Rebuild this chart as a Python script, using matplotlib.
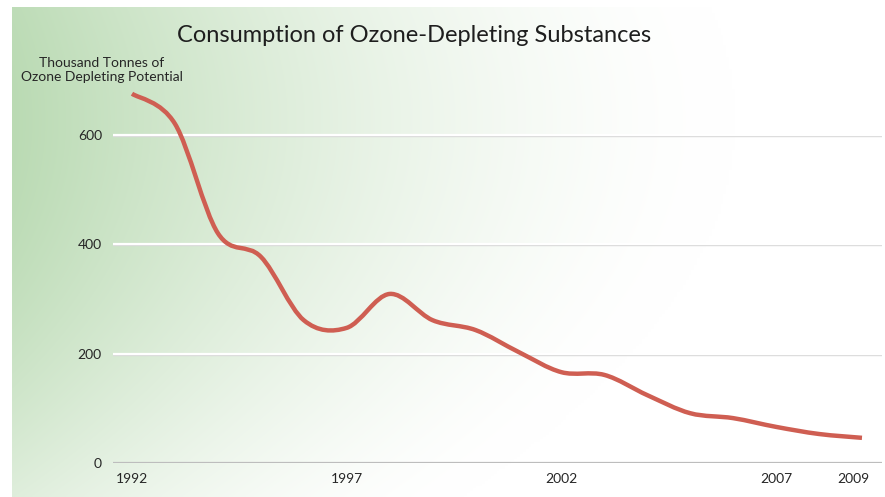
import matplotlib
matplotlib.use('Agg')
import matplotlib.pyplot as plt
import matplotlib.transforms as mtransforms
import numpy as np
from matplotlib.path import Path
from matplotlib.patches import PathPatch

# thousand tonnes of ODP
years = list(range(1992, 2010))
consumption = [675, 620, 420, 377, 261, 247, 309, 261, 243, 203,
               166, 161, 124, 91, 82, 66, 53, 46]
y_ticks = [0, 200, 400, 600]
x_ticks = [1992, 1997, 2002, 2007, 2009]

title = 'Consumption of Ozone-Depleting Substances'
unit_label = 'Thousand Tonnes of\nOzone Depleting Potential'

plt.rcParams['font.family'] = ['Lato', 'DejaVu Sans']
txt_color = '#262626'
line_color = '#cf5e52'

W, H = 885, 497
fig = plt.figure(figsize=(W / 100, H / 100), dpi=100)
fig.patch.set_facecolor('white')

# soft green -> white background, greenest at the left middle (row 0 = top)
bg = fig.add_axes([12 / W, 0, 1 - 12 / W, 1 - 7 / H])
bg.set_axis_off()
px, py = np.meshgrid(np.linspace(0, 873, 300), np.linspace(0, 490, 200))
t = (px + 0.45 * py) / 800 + 0.15 * ((py - 230) / 250) ** 2
tint = (1 - np.clip(t, 0, 1)) ** 1.6
green = np.array([174, 212, 166]) / 255
white = np.array([1.0, 1.0, 1.0])
img = white[None, None, :] + (green - white)[None, None, :] * tint[..., None]
bg.imshow(img, aspect='auto', origin='upper', interpolation='bilinear')

# main axes: x 113..882 px, y 0 at 463 px
ax = fig.add_axes([113 / W, (H - 463) / H, (882 - 113) / W, (463 - 80) / H])
ax.patch.set_alpha(0)
px_per_year = 42.94
ax.set_xlim(1992 - 19 / px_per_year, 1992 + 750 / px_per_year)
ax.set_ylim(0, 700)
for s in ax.spines.values():
    s.set_visible(False)

shadow = ax.get_yaxis_transform() + mtransforms.ScaledTranslation(0, -1.2 / 100, fig.dpi_scale_trans)
for v in y_ticks[1:]:
    ax.plot([0, 1], [v, v], color='#d9d9d9', lw=1.0, transform=shadow, zorder=1)
    ax.axhline(v, color='white', lw=1.6, zorder=1.5)
ax.axhline(0, color='#bdbdbd', lw=1.6, zorder=1)

# smooth curve through yearly points (Catmull-Rom as Bezier segments)
pts = np.column_stack([years, consumption]).astype(float)
ext = np.vstack([pts[0], pts, pts[-1]])
verts = [tuple(pts[0])]
codes = [Path.MOVETO]
for i in range(1, len(ext) - 2):
    p0, p1, p2, p3 = ext[i - 1], ext[i], ext[i + 1], ext[i + 2]
    c1 = p1 + (p2 - p0) / 6
    c2 = p2 - (p3 - p1) / 6
    verts += [tuple(c1), tuple(c2), tuple(p2)]
    codes += [Path.CURVE4] * 3
ax.add_patch(PathPatch(Path(verts, codes), fill=False, edgecolor=line_color,
                       lw=3.2, capstyle='butt', joinstyle='round', zorder=3))

ax.set_yticks(y_ticks)
ax.set_yticklabels([str(v) for v in y_ticks])
ax.set_xticks(x_ticks)
ax.set_xticklabels([str(v) for v in x_ticks])
ax.tick_params(axis='y', length=0, pad=8, labelsize=10, labelcolor=txt_color)
ax.tick_params(axis='x', length=0, pad=7, labelsize=10, labelcolor=txt_color)
# last year label sits a little left of its point, as in the original
last = ax.get_xticklabels()[-1]
last.set_transform(last.get_transform() + mtransforms.ScaledTranslation(-9 / 100, 0, fig.dpi_scale_trans))

fig.text(414 / W, 1 - 35 / H, title, ha='center', va='center',
         fontsize=17, color='#1e1e1e')
fig.text(102 / W, 1 - 70 / H, unit_label, ha='center', va='center',
         fontsize=10, color=txt_color, linespacing=1.25)

fig.savefig('out.png', dpi=100)
